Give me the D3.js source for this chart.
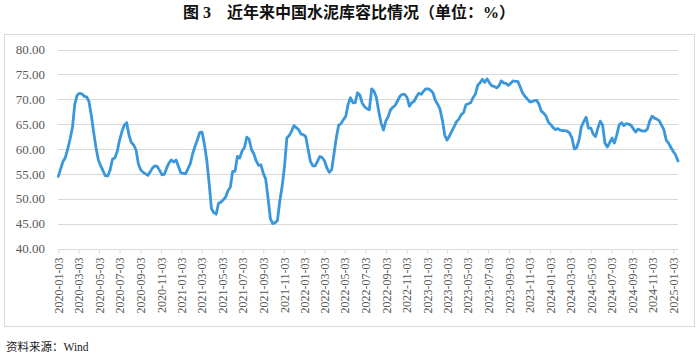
<!DOCTYPE html>
<html><head><meta charset="utf-8">
<script src="https://cdn.jsdelivr.net/npm/d3@7"></script>
<style>body{margin:0;background:#fff} svg{display:block}</style>
</head><body><svg id="c" width="700" height="356"></svg>
<script>
const titleText = "图 3　近年来中国水泥库容比情况（单位：%）";
const sourceText = "资料来源：Wind";
const startDate = "2020-01-03"; // weekly series
const v2020 = [54.5,56.0,57.5,58.3,60.0,62.0,64.3,69.0,70.8,71.2,71.1,70.6,70.5,69.6,66.8,63.4,60.3,57.8,56.6,55.6,54.6,54.6,55.8,58.0,58.2,59.5,61.8,63.5,64.8,65.3,62.8,61.3,60.8,59.8,57.0,55.8,55.3,55.0,54.7,55.4,56.2,56.6,56.5,55.7,54.8,54.9,56.2,57.2,57.8,57.4,57.8,56.5];
const v2021 = [55.2,55.1,55.0,56.0,57.0,59.0,60.5,61.8,63.3,63.4,61.0,57.8,53.2,48.0,47.2,46.9,49.1,49.3,49.8,50.3,51.6,52.3,55.5,55.5,58.5,58.2,59.6,60.3,62.4,61.9,59.9,59.0,57.6,56.7,56.8,55.1,54.0,50.2,46.0,45.0,45.2,45.6,49.5,52.5,56.5,62.2,62.7,63.6,64.7,64.3,63.9,63.0,62.9];
const v2022 = [62.5,60.0,57.5,56.6,56.6,57.5,58.5,58.3,57.6,56.2,55.3,55.8,59.0,62.3,64.8,65.1,65.9,66.6,69.0,70.3,69.3,69.3,71.3,70.8,69.2,68.5,68.1,67.9,72.1,71.6,70.3,67.6,65.2,63.8,65.6,66.5,67.9,68.4,68.8,69.7,70.6,71.0,71.0,70.4,68.6,69.3,69.6,70.5,71.2,71.0,71.6,72.1];
const v2023 = [72.1,71.8,71.3,69.8,69.0,68.0,65.8,62.8,61.8,62.6,63.6,64.5,65.5,66.0,66.9,67.3,68.9,69.1,69.3,70.3,71.0,72.8,73.3,74.0,73.4,74.1,73.3,72.7,72.6,72.3,72.7,73.7,73.3,73.2,72.8,73.2,73.7,73.6,73.6,72.5,71.3,70.6,70.1,69.5,69.5,69.7,69.8,69.0,67.6,67.2,66.6,65.4];
const v2024 = [64.9,64.3,63.9,64.1,63.8,63.7,63.7,63.6,63.2,62.2,60.0,60.3,61.8,64.5,65.5,66.4,64.2,64.2,63.0,62.5,64.2,65.6,64.8,61.2,60.4,61.3,62.2,61.2,62.8,64.8,65.3,64.7,65.1,65.0,64.8,64.1,63.4,64.0,63.8,63.6,63.6,64.0,65.6,66.6,66.2,66.0,65.7,64.8,63.9,61.8,61.2,60.3];
const v2025 = [59.5,58.8,57.6];
const yTicks = [40,45,50,55,60,65,70,75,80];
const xTickLabels = ["2020-01-03","2020-03-03","2020-05-03","2020-07-03","2020-09-03","2020-11-03",
 "2021-01-03","2021-03-03","2021-05-03","2021-07-03","2021-09-03","2021-11-03",
 "2022-01-03","2022-03-03","2022-05-03","2022-07-03","2022-09-03","2022-11-03",
 "2023-01-03","2023-03-03","2023-05-03","2023-07-03","2023-09-03","2023-11-03",
 "2024-01-03","2024-03-03","2024-05-03","2024-07-03","2024-09-03","2024-11-03","2025-01-03"];

const values = [].concat(v2020, v2021, v2022, v2023, v2024, v2025);
const parse = d3.utcParse("%Y-%m-%d");
const t0 = parse(startDate);
const data = values.map((v, i) => ({date: d3.utcDay.offset(t0, 7 * i), value: v}));

const svg = d3.select("#c");
const serif = "'Liberation Serif','Times New Roman','Noto Sans CJK SC',serif";

svg.append("rect").attr("x", 4.5).attr("y", 34.5).attr("width", 690).attr("height", 292)
  .attr("fill", "#fff").attr("stroke", "#d9d9d9");

const x = d3.scaleUtc().domain([t0, data[data.length - 1].date]).range([58.3, 678]);
const y = d3.scaleLinear().domain([40, 80]).range([248.5, 49.5]);

// gridlines
svg.append("g").selectAll("line").data(yTicks.filter(d => d > 40)).join("line")
  .attr("x1", 58).attr("x2", 678)
  .attr("y1", d => Math.round(y(d)) + 0.5).attr("y2", d => Math.round(y(d)) + 0.5)
  .attr("stroke", "#d9d9d9").attr("stroke-width", 1);

// y axis labels
const yAxis = d3.axisLeft(y).tickValues(yTicks).tickFormat(d3.format(".2f")).tickSize(0).tickPadding(0);
const gy = svg.append("g").attr("transform", "translate(45,0)").call(yAxis);
gy.select(".domain").remove();
gy.selectAll("text").attr("font-family", serif).attr("font-size", 13).attr("fill", "#595959");

// x axis
const xTicks = xTickLabels.map(parse);
const xAxis = d3.axisBottom(x).tickValues(xTicks).tickFormat(d3.utcFormat("%Y-%m-%d")).tickSize(4).tickPadding(4);
const gx = svg.append("g").attr("transform", `translate(0,${Math.round(y(40)) + 0.5})`).call(xAxis);
gx.select(".domain").attr("stroke", "#d9d9d9").attr("d", `M58,0H678`);
gx.selectAll(".tick line").attr("stroke", "#d9d9d9");
gx.selectAll("text")
  .attr("font-family", serif).attr("font-size", 12).attr("fill", "#595959")
  .attr("text-anchor", "end").attr("transform", "rotate(-90)")
  .attr("x", -8).attr("y", 0).attr("dy", "0.35em");

// line
const line = d3.line().x(d => x(d.date)).y(d => y(d.value)).curve(d3.curveLinear);
svg.append("path").datum(data).attr("d", line)
  .attr("fill", "none").attr("stroke", "#3a97db").attr("stroke-width", 2.8)
  .attr("stroke-linejoin", "round").attr("stroke-linecap", "round");

// title
svg.append("text").attr("x", 183).attr("y", 18).text(titleText)
  .attr("font-family", serif).attr("font-weight", 700).attr("font-size", 16).attr("fill", "#111");

// source
svg.append("text").attr("x", 6).attr("y", 351).text(sourceText)
  .attr("font-family", serif).attr("font-size", 11.5).attr("fill", "#222");
</script>
</body></html>
